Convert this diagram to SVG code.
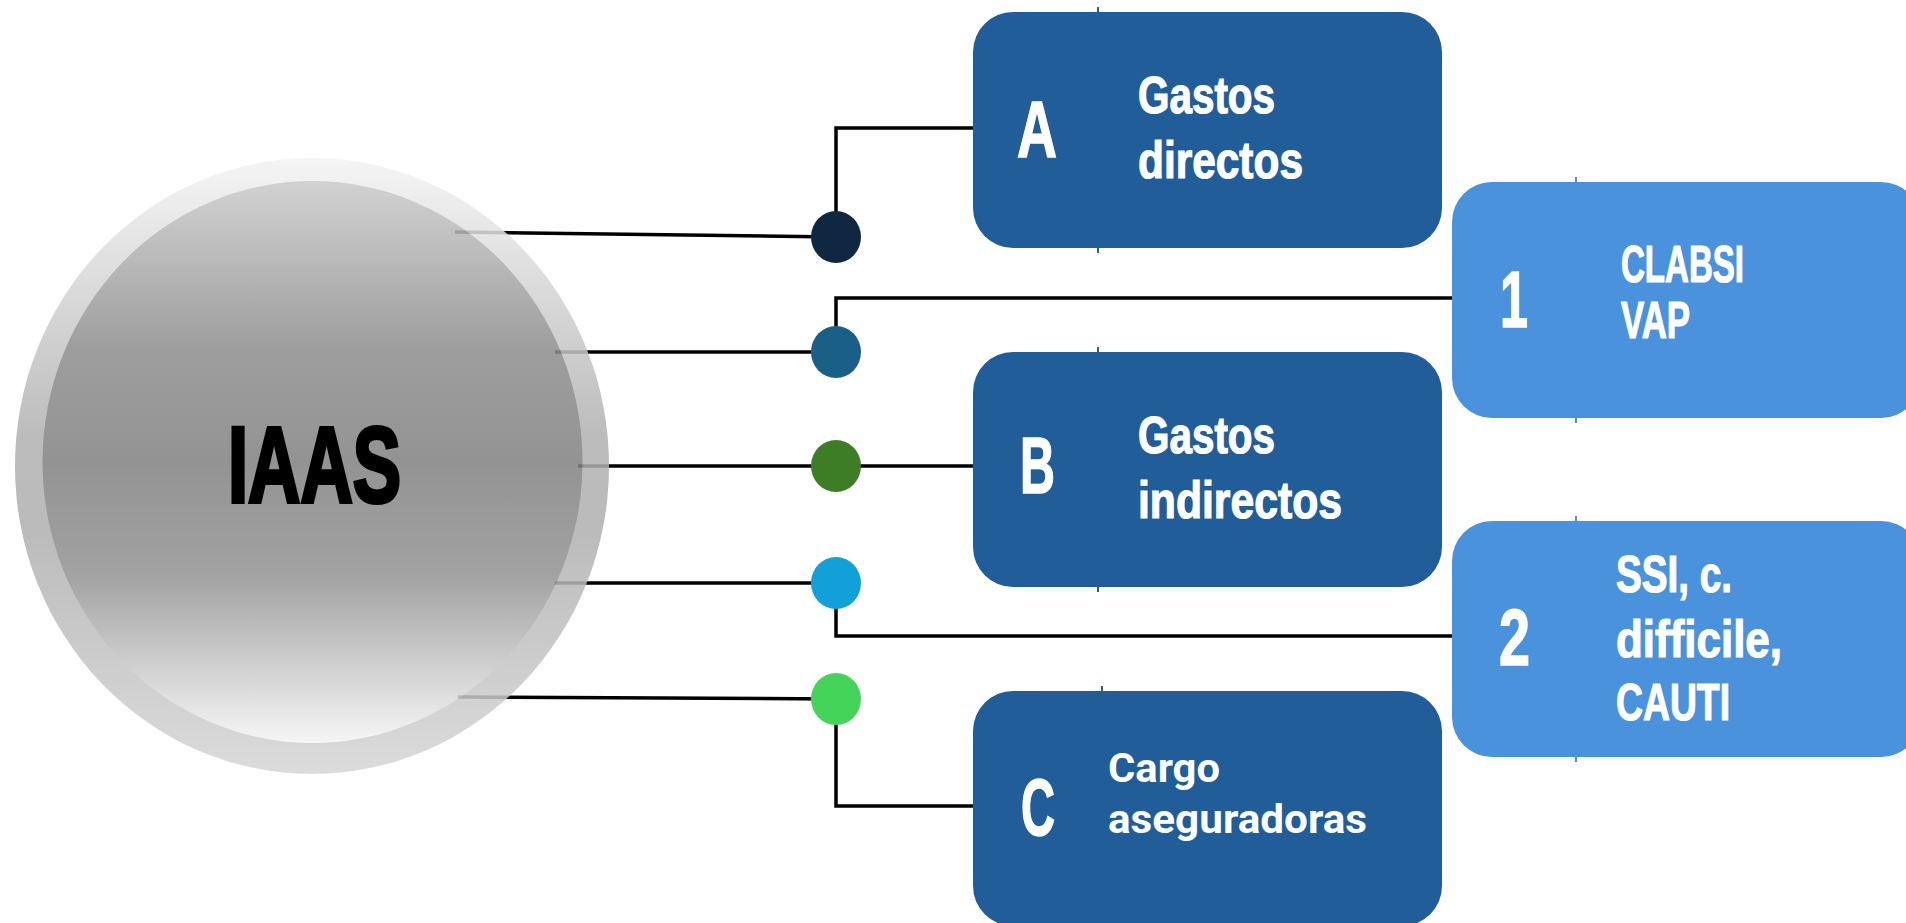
<svg xmlns="http://www.w3.org/2000/svg" width="1906" height="923" viewBox="0 0 1906 923">
<defs>
<linearGradient id="gOuter" x1="0" y1="0" x2="0" y2="1">
<stop offset="0" stop-color="#f4f4f4"/>
<stop offset="0.45" stop-color="#b2b2b2"/>
<stop offset="0.6" stop-color="#b0b0b0"/>
<stop offset="1" stop-color="#d6d6d6"/>
</linearGradient>
<linearGradient id="gInner" x1="0" y1="0" x2="0" y2="1">
<stop offset="0" stop-color="#cbcbcb"/>
<stop offset="0.3" stop-color="#8e8e8e"/>
<stop offset="0.5" stop-color="#828282"/>
<stop offset="0.7" stop-color="#939393"/>
<stop offset="1" stop-color="#f5f5f5"/>
</linearGradient>
<style>
.ln{fill:none;stroke:#000;stroke-width:3.5}
.dk{fill:#215D99}
.lt{fill:#4A92DC}
.tkd{stroke:#215D99;stroke-width:2}
.tkl{stroke:#4A92DC;stroke-width:2}
.big{font-family:"Liberation Sans Narrow","Liberation Sans",sans-serif;font-weight:bold;fill:#fff;stroke:#fff;stroke-width:1.5;font-size:80px}
.lbl{font-family:"Liberation Sans Narrow","Liberation Sans",sans-serif;font-weight:bold;fill:#fff;stroke:#fff;stroke-width:1.2;font-size:52px}
.rob{font-family:Roboto,"Liberation Sans",sans-serif;font-weight:bold;fill:#fff;font-size:40px}
</style>
</defs>
<rect width="1906" height="923" fill="#fff"/>

<g id="connectors">
<polyline class="ln" points="455,232 836,237"/>
<polyline class="ln" points="555,352 836,352"/>
<polyline class="ln" points="578,466 973,466"/>
<polyline class="ln" points="555,583 836,583"/>
<polyline class="ln" points="458,697 836,699"/>
<polyline class="ln" points="836,237 836,128 973,128"/>
<polyline class="ln" points="836,352 836,298 1452,298"/>
<polyline class="ln" points="836,583 836,636 1452,636"/>
<polyline class="ln" points="836,699 836,806 973,806"/>
</g>

<g id="iaas">
<g opacity="0.86">
<ellipse cx="312" cy="466" rx="297" ry="308" fill="url(#gOuter)"/>
<ellipse cx="312.5" cy="462" rx="270" ry="281" fill="url(#gInner)"/>
</g>
<text x="228" y="502" font-family="'Liberation Sans Narrow','Liberation Sans',sans-serif" font-weight="bold" font-size="107" fill="#000" stroke="#000" stroke-width="4" textLength="173" lengthAdjust="spacingAndGlyphs">IAAS</text>
</g>

<g id="dots">
<ellipse id="dot1" cx="836" cy="237" rx="25" ry="26" fill="#0F2740"/>
<ellipse id="dot2" cx="836" cy="352" rx="25" ry="26" fill="#1A5F85"/>
<ellipse id="dot3" cx="836" cy="466" rx="25" ry="26" fill="#3D7D26"/>
<ellipse id="dot4" cx="836" cy="583" rx="25" ry="26" fill="#12A0D8"/>
<ellipse id="dot5" cx="836" cy="699" rx="25" ry="26" fill="#45D45A"/>
</g>

<g id="boxA">
<line class="tkd" x1="1098" y1="7" x2="1098" y2="13"/>
<line class="tkd" x1="1098" y1="247" x2="1098" y2="253"/>
<rect class="dk" x="973" y="12" width="469" height="236" rx="40"/>
<text class="big" x="1017" y="157" textLength="40" lengthAdjust="spacingAndGlyphs">A</text>
<text class="lbl" x="1138" y="113" textLength="137" lengthAdjust="spacingAndGlyphs">Gastos</text>
<text class="lbl" x="1138" y="178" textLength="165" lengthAdjust="spacingAndGlyphs">directos</text>
</g>

<g id="boxB">
<line class="tkd" x1="1098" y1="347" x2="1098" y2="353"/>
<line class="tkd" x1="1098" y1="586" x2="1098" y2="592"/>
<rect class="dk" x="973" y="352" width="469" height="235" rx="40"/>
<text class="big" x="1020" y="493" textLength="35" lengthAdjust="spacingAndGlyphs">B</text>
<text class="lbl" x="1138" y="453" textLength="137" lengthAdjust="spacingAndGlyphs">Gastos</text>
<text class="lbl" x="1138" y="518" textLength="204" lengthAdjust="spacingAndGlyphs">indirectos</text>
</g>

<g id="boxC">
<line class="tkd" x1="1102" y1="686" x2="1102" y2="692"/>
<rect class="dk" x="973" y="691" width="469" height="235" rx="40"/>
<text class="big" x="1021" y="835" textLength="34" lengthAdjust="spacingAndGlyphs">C</text>
<text class="rob" x="1108" y="782" textLength="112" lengthAdjust="spacingAndGlyphs">Cargo</text>
<text class="rob" x="1108" y="833" textLength="259" lengthAdjust="spacingAndGlyphs">aseguradoras</text>
</g>

<g id="box1">
<line class="tkl" x1="1576" y1="177" x2="1576" y2="183"/>
<line class="tkl" x1="1576" y1="417" x2="1576" y2="423"/>
<rect class="lt" x="1452" y="182" width="469" height="236" rx="40"/>
<text class="big" x="1500" y="327" textLength="28" lengthAdjust="spacingAndGlyphs">1</text>
<text class="lbl" x="1621" y="282" textLength="123" lengthAdjust="spacingAndGlyphs">CLABSI</text>
<text class="lbl" x="1621" y="338" textLength="69" lengthAdjust="spacingAndGlyphs">VAP</text>
</g>

<g id="box2">
<line class="tkl" x1="1576" y1="516" x2="1576" y2="522"/>
<line class="tkl" x1="1576" y1="756" x2="1576" y2="762"/>
<rect class="lt" x="1452" y="521" width="469" height="236" rx="40"/>
<text class="big" x="1499" y="665" textLength="31" lengthAdjust="spacingAndGlyphs">2</text>
<text class="lbl" x="1616" y="592" textLength="116" lengthAdjust="spacingAndGlyphs">SSI, c.</text>
<text class="lbl" x="1616" y="657" textLength="166" lengthAdjust="spacingAndGlyphs">difficile,</text>
<text class="lbl" x="1616" y="720" textLength="114" lengthAdjust="spacingAndGlyphs">CAUTI</text>
</g>
</svg>
